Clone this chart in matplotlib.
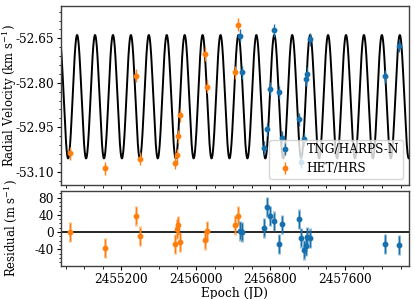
import numpy as np
import matplotlib
matplotlib.use("Agg")
import matplotlib.pyplot as plt
from matplotlib.ticker import MultipleLocator, FormatStrFormatter

plt.rcParams['font.family'] = ['DejaVu Serif']
plt.rcParams['mathtext.fontset'] = 'dejavuserif'
plt.rcParams['axes.unicode_minus'] = False

FONTSIZE = 8.7
LABELSIZE = 8.4
BLUE = '#1570ad'
ORANGE = '#ff7f0e'

# HET/HRS epochs (JD), RV (km/s) and residuals (m/s)
het_jd = [2454648, 2455028, 2455357, 2455397, 2455780, 2455794, 2455808,
          2455827, 2456099, 2456124, 2456418, 2456450]
het_rv = [-53.038, -53.089, -52.777, -53.056, -53.070, -53.044, -52.981,
          -52.910, -52.703, -52.813, -52.765, -52.605]
het_res = [0.0, -37.0, 37.7, -10.0, -27.7, 7.0, 15.4, -23.0, -17.7, 3.0, 17.0, 37.7]

# TNG/HARPS-N epochs (JD), RV (km/s) and residuals (m/s)
tng_jd = [2456471, 2456500, 2456737, 2456765, 2456791, 2456834, 2456891,
          2456920, 2457106, 2457127, 2457163, 2457188, 2457192, 2457231,
          2458033, 2458184]
tng_rv = [-52.642, -52.764, -53.020, -52.957, -52.820, -52.623, -52.832,
          -52.985, -52.923, -53.066, -52.990, -52.788, -52.769, -52.653,
          -52.778, -52.675]
tng_res = [3.0, 0.8, 10.0, 59.0, 37.0, 25.0, -27.7, 17.7, 30.0, -13.0,
           -40.8, -33.0, -10.8, -14.6, -27.7, -30.0]

# errors
RV_ERR = 0.022      # km/s
RES_ERR = 20.0      # m/s, internal
RES_ERR_JIT = 23.0  # m/s, with jitter

# orbit model
GAMMA = -52.847
K = 0.208
PERIOD = 192.67
T_PEAK = 2454723

XMIN, XMAX = 2454550, 2458290

fig = plt.figure(figsize=(4.15, 2.99), dpi=100)
ax1 = fig.add_axes([0.147, 0.381, 0.8385, 0.600])
ax2 = fig.add_axes([0.147, 0.111, 0.8385, 0.250], sharex=ax1)

# model curve
tmod = np.linspace(XMIN, XMAX, 4000)
rvmod = GAMMA + K * np.cos(2 * np.pi * (tmod - T_PEAK) / PERIOD)
ax1.plot(tmod, rvmod, color='black', lw=1.4, zorder=1)

h_het = ax1.errorbar(het_jd, het_rv, yerr=RV_ERR, fmt='o', color=ORANGE,
                     ms=3.2, elinewidth=1, capsize=0, label='HET/HRS', zorder=3)
h_tng = ax1.errorbar(tng_jd, tng_rv, yerr=RV_ERR, fmt='o', color=BLUE,
                     ms=3.2, elinewidth=1, capsize=0, label='TNG/HARPS-N', zorder=4)

ax1.set_ylim(-53.145, -52.54)
ax1.set_xlim(XMIN, XMAX)
ax1.yaxis.set_major_locator(MultipleLocator(0.15))
ax1.yaxis.set_minor_locator(MultipleLocator(0.03))
ax1.yaxis.set_major_formatter(FormatStrFormatter('%.2f'))
ax1.set_ylabel('Radial Velocity (km s$^{-1}$)', fontsize=LABELSIZE)
ax1.tick_params(labelbottom=False)
leg = ax1.legend([h_tng, h_het], ['TNG/HARPS-N', 'HET/HRS'], loc='lower right',
                 fontsize=FONTSIZE, framealpha=0.8, borderpad=0.3)

# residuals
for jd, res, col in [(het_jd, het_res, ORANGE), (tng_jd, tng_res, BLUE)]:
    ax2.errorbar(jd, res, yerr=RES_ERR_JIT, fmt='none', ecolor=col, alpha=0.5,
                 elinewidth=2, capsize=0, zorder=2)
    ax2.errorbar(jd, res, yerr=RES_ERR, fmt='o', color=col, ms=3.2,
                 elinewidth=0.8, capsize=0, zorder=3)
ax2.axhline(0, color='black', lw=1.2, zorder=1)
ax2.set_ylim(-78, 95)
ax2.yaxis.set_major_locator(MultipleLocator(40))
ax2.yaxis.set_minor_locator(MultipleLocator(10))
ax2.xaxis.set_major_locator(MultipleLocator(800))
ax2.xaxis.set_minor_locator(MultipleLocator(200))
ax2.xaxis.set_major_formatter(FormatStrFormatter('%d'))
ax2.set_ylabel('Residual (m s$^{-1}$)', fontsize=LABELSIZE)
ax2.set_xlabel('Epoch (JD)', fontsize=FONTSIZE, labelpad=1)

for ax in (ax1, ax2):
    ax.tick_params(which='major', length=3, width=0.8, labelsize=FONTSIZE, pad=2)
    ax.tick_params(which='minor', length=1.8, width=0.6)
    ax.yaxis.set_label_coords(-0.122, 0.5)
    for sp in ax.spines.values():
        sp.set_color('0.25')
        sp.set_linewidth(1.0)

fig.savefig('out.png', dpi=100)
